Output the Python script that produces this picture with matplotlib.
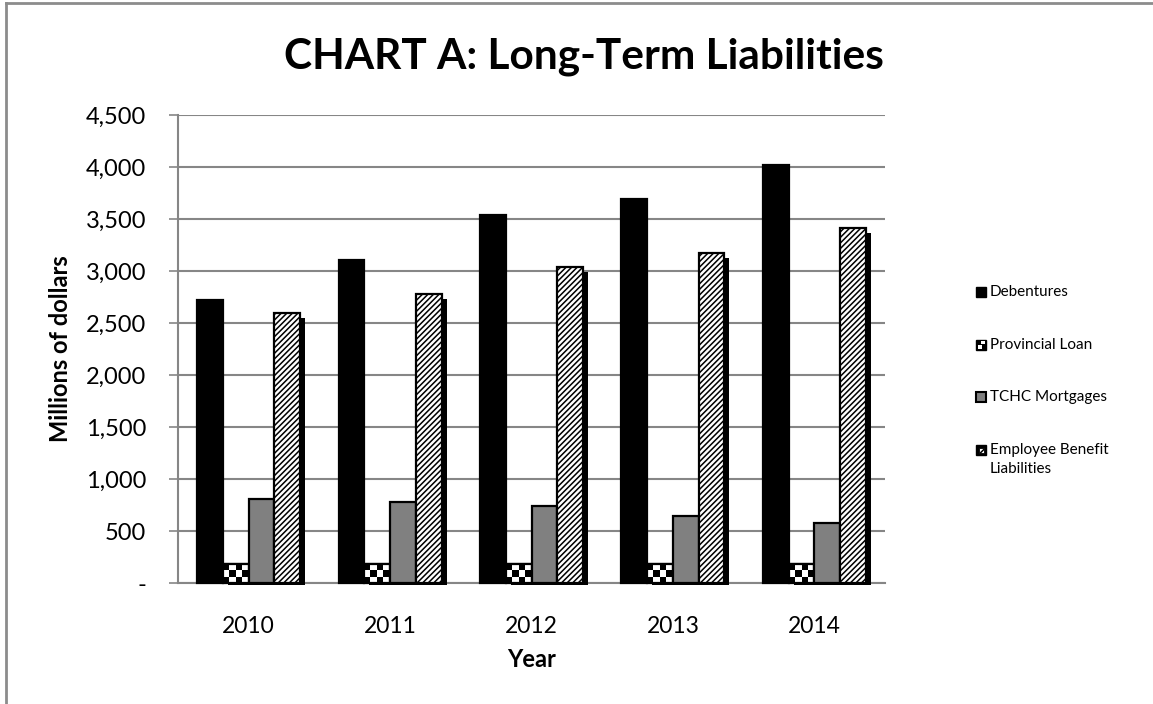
import numpy as np
import matplotlib
matplotlib.use("Agg")
import matplotlib.pyplot as plt
import matplotlib.patheffects as pe
from matplotlib.patches import Rectangle
from matplotlib.lines import Line2D

years = ["2010", "2011", "2012", "2013", "2014"]
debentures = [2720, 3105, 3535, 3695, 4015]
provincial_loan = [180, 180, 180, 180, 180]
tchc_mortgages = [808, 782, 737, 644, 580]
employee_benefit = [2596, 2779, 3041, 3176, 3416]
series_names = ["Debentures", "Provincial Loan", "TCHC Mortgages", "Employee Benefit\nLiabilities"]
yticks = [0, 500, 1000, 1500, 2000, 2500, 3000, 3500, 4000, 4500]
ytick_labels = ["-", "500", "1,000", "1,500", "2,000", "2,500", "3,000", "3,500", "4,000", "4,500"]

plt.rcParams['font.family'] = ['Lato', 'DejaVu Sans']
plt.rcParams['hatch.linewidth'] = 1.1

W, H = 1153, 704
fig = plt.figure(figsize=(W / 100, H / 100), dpi=100)
ax = fig.add_axes([178 / W, 1 - 583 / H, (885 - 178) / W, (583 - 115) / H])

# figure border (top & left only)
fig.add_artist(Line2D([6 / W, 6 / W], [0, 1 - 3 / H], transform=fig.transFigure, color='#8c8c8c', lw=2))
fig.add_artist(Line2D([6 / W, 1], [1 - 3 / H, 1 - 3 / H], transform=fig.transFigure, color='#8c8c8c', lw=2))

x = np.arange(len(years))
bw = 0.182
offsets = np.array([-1.5, -0.5, 0.5, 1.5]) * bw
shadow = [pe.SimplePatchShadow(offset=(3.6, -3.6), shadow_rgbFace='black', alpha=1.0), pe.Normal()]
clip_rect = Rectangle((0, -0.004), 1, 1.1, transform=ax.transAxes, fill=False)

data = [debentures, provincial_loan, tchc_mortgages, employee_benefit]
styles = [
    dict(color='black', edgecolor='black'),
    dict(color='white', edgecolor='black'),
    dict(color='#808080', edgecolor='black'),
    dict(color='white', edgecolor='black', hatch='//////'),
]
containers = []
for i, (vals, st) in enumerate(zip(data, styles)):
    bars = ax.bar(x + offsets[i], vals, width=bw, linewidth=1.6, zorder=3 + i, **st)
    for b in bars:
        if i > 0:
            b.set_path_effects(shadow)
        b.set_clip_path(clip_rect)
    containers.append(bars)

# checkerboard fill for provincial loan
checker = (np.indices((3, 4)).sum(axis=0) % 2).astype(float)
for b in containers[1]:
    x0, y0 = b.get_x(), b.get_y()
    im = ax.imshow(checker, cmap='gray', extent=(x0, x0 + b.get_width(), y0, y0 + b.get_height()),
                   interpolation='nearest', aspect='auto', zorder=4.5, vmin=0, vmax=1)
    im.set_clip_path(b)
    ax.add_patch(Rectangle((x0, y0), b.get_width(), b.get_height(), fill=False, edgecolor='black',
                           linewidth=1.6, zorder=4.6))

ax.set_xlim(-0.5, len(years) - 0.5)
ax.set_ylim(0, 4500)
ax.set_yticks(yticks)
ax.set_yticklabels(ytick_labels)
ax.set_xticks(x)
ax.set_xticklabels(years)
ax.grid(axis='y', color='#868686', linewidth=1.5, zorder=0)
ax.set_axisbelow(True)
for s in ['top', 'right']:
    ax.spines[s].set_visible(False)
for s in ['left', 'bottom']:
    ax.spines[s].set_color('#868686')
    ax.spines[s].set_linewidth(1.5)
ax.tick_params(axis='y', length=6.5, width=1.2, color='#868686', pad=16.5, labelsize=17)
ax.tick_params(axis='x', length=0, pad=24, labelsize=16.5)

ax.set_ylabel("Millions of dollars", fontsize=17, fontweight='bold', labelpad=10)
ax.set_xlabel("Year", fontsize=17, fontweight='bold', labelpad=8)
fig.text(584 / W, 1 - 57 / H, "CHART A: Long-Term Liabilities", fontsize=30.5, fontweight='bold',
         ha='center', va='center')

# legend (drawn in figure pixel coordinates)
leg_y = [292, 345, 397, 450]
sq = 10
lx = 976
def fx(px):
    return px / W
def fy(py):
    return 1 - py / H

for i, name in enumerate(series_names):
    yc = leg_y[i]
    y0 = fy(yc + sq / 2)
    if i == 0:
        fig.add_artist(Rectangle((fx(lx), y0), sq / W, sq / H, transform=fig.transFigure,
                                 facecolor='black', edgecolor='black', lw=1))
    elif i == 1:
        fig.add_artist(Rectangle((fx(lx), y0), sq / W, sq / H, transform=fig.transFigure,
                                 facecolor='black', edgecolor='black', lw=1))
        fig.add_artist(Rectangle((fx(lx + 5), fy(yc - 0.5)), 3.5 / W, 3.5 / H, transform=fig.transFigure,
                                 facecolor='white', edgecolor='none'))
        fig.add_artist(Rectangle((fx(lx + 2), fy(yc + 3.5)), 3.5 / W, 3.5 / H, transform=fig.transFigure,
                                 facecolor='white', edgecolor='none'))
    elif i == 2:
        fig.add_artist(Rectangle((fx(lx), y0), sq / W, sq / H, transform=fig.transFigure,
                                 facecolor='#808080', edgecolor='black', lw=1.5))
    else:
        fig.add_artist(Rectangle((fx(lx), y0), sq / W, sq / H, transform=fig.transFigure,
                                 facecolor='black', edgecolor='black', lw=1))
        fig.add_artist(Rectangle((fx(lx + 2.5), fy(yc + 2.5)), 5 / W, 5 / H, transform=fig.transFigure,
                                 facecolor='white', edgecolor='black', lw=0.6, hatch='//'))
    fig.text(fx(lx + 14), fy(yc - 7), name, fontsize=11, ha='left', va='top', linespacing=1.45)

fig.savefig("out.png", dpi=100)
